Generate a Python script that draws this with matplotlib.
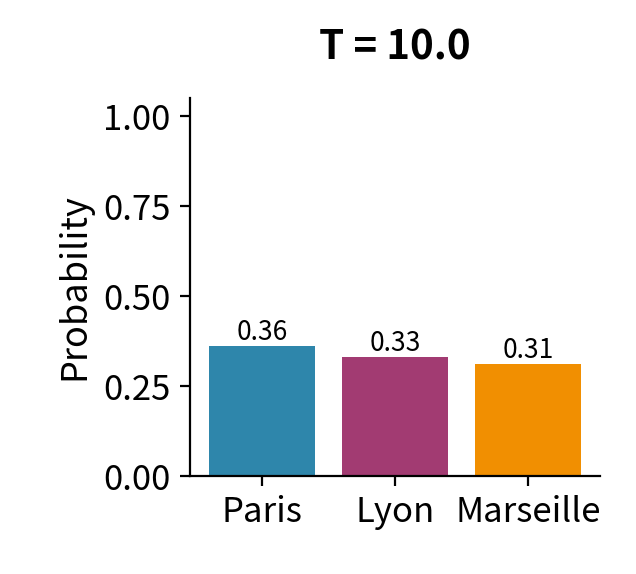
import matplotlib
matplotlib.use("Agg")
import matplotlib.pyplot as plt

plt.rcParams['font.family'] = ['Noto Sans CJK SC', 'DejaVu Sans']

cities = ["Paris", "Lyon", "Marseille"]
probs = [0.36, 0.33, 0.31]
colors = ["#2E86AB", "#A23B72", "#F18F01"]

fig = plt.figure(figsize=(3.18, 2.87), dpi=200)
ax = fig.add_axes([190/636, 1-476/574, 410/636, 378/574])
bars = ax.bar(cities, probs, color=colors, width=0.8)
for b, p in zip(bars, probs):
    ax.text(b.get_x()+b.get_width()/2, p, f"{p:.2f}", ha="center", va="bottom", fontsize=9.5)
ax.set_ylim(0, 1.05)
ax.set_yticks([0, 0.25, 0.5, 0.75, 1.0])
ax.set_yticklabels(["0.00", "0.25", "0.50", "0.75", "1.00"])
ax.set_ylabel("Probability", fontsize=13)
ax.set_title("T = 10.0", fontsize=14.5, fontweight="bold", pad=14)
ax.tick_params(labelsize=12.5)
ax.spines['top'].set_visible(False)
ax.spines['right'].set_visible(False)
fig.savefig("out.png", dpi=200)
